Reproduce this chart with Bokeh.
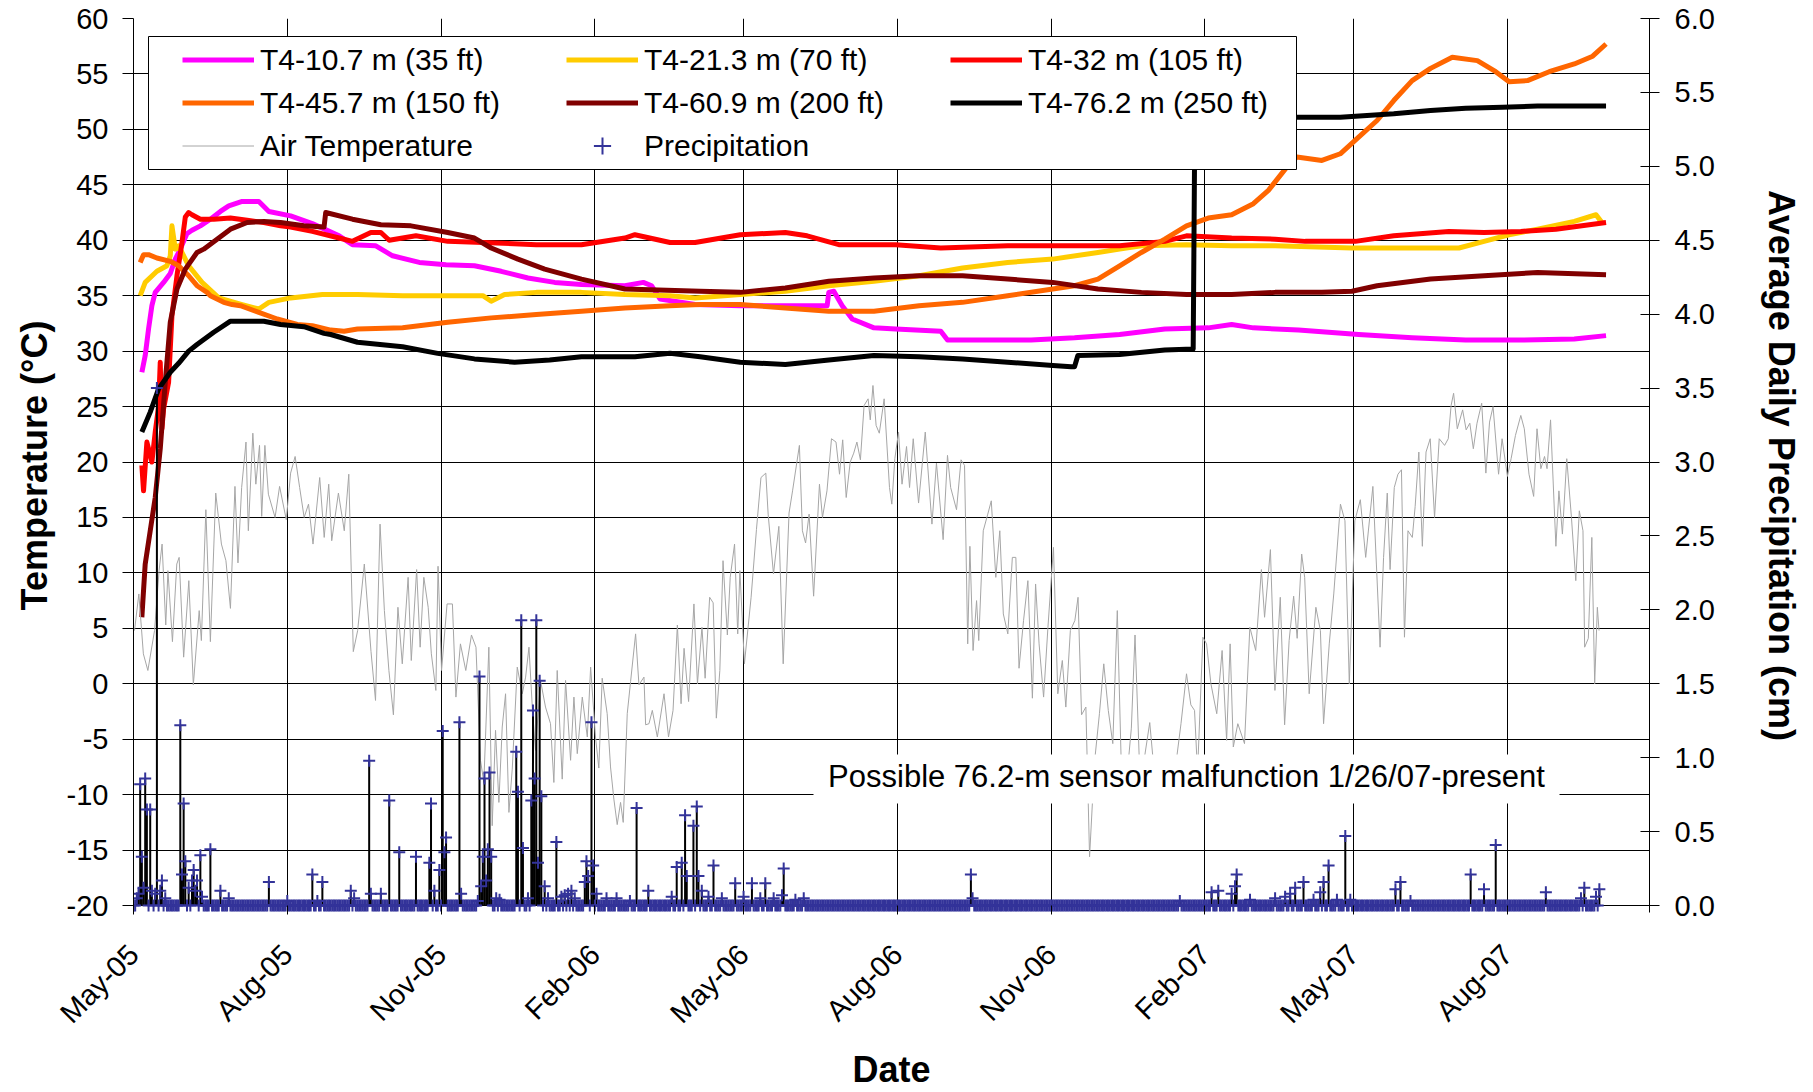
import math
import numpy as np
import pandas as pd
from bokeh.plotting import figure
from bokeh.models import (Range1d, LinearAxis, FixedTicker, DatetimeTickFormatter,
                          NumeralTickFormatter, Legend, LegendItem, Label, BoxAnnotation)
from bokeh.embed import file_html
from bokeh.resources import INLINE

FONT = "Liberation Sans"
START = pd.Timestamp("2005-05-01")
AXIS_END = pd.Timestamp("2007-10-25")

# ---------------- tick labels ----------------
tick_dates = ["2005-05-01", "2005-08-01", "2005-11-01", "2006-02-01", "2006-05-01",
              "2006-08-01", "2006-11-01", "2007-02-01", "2007-05-01", "2007-08-01"]
tick_label_format = "%b-%y"   # May-05, Aug-05, ... Aug-07
temp_ticks = [-20, -15, -10, -5, 0, 5, 10, 15, 20, 25, 30, 35, 40, 45, 50, 55, 60]
precip_ticks = [0.0, 0.5, 1.0, 1.5, 2.0, 2.5, 3.0, 3.5, 4.0, 4.5, 5.0, 5.5, 6.0]

# ---------------- data (days since 2005-05-01) ----------------
t107_days = [5, 7, 9, 11, 13, 18, 22, 25, 28, 32, 35, 40, 46, 52, 57, 65, 75, 81, 94, 107, 123, 131,
             145, 155, 171, 187, 204, 220, 236, 252, 268, 294, 305, 310, 315, 336, 363, 390, 415, 416,
             419, 424, 430, 443, 456, 483, 487, 510, 537, 563, 590, 617, 643, 657, 670, 697, 733, 765,
             797, 830, 862, 881]
t107_vals = [28.1, 29.6, 32.0, 34.1, 35.3, 36.2, 37.0, 38.3, 39.2, 40.6, 40.9, 41.3, 41.9, 42.6, 43.1,
             43.5, 43.5, 42.6, 42.2, 41.5, 40.4, 39.6, 39.5, 38.6, 38.0, 37.8, 37.7, 37.2, 36.6, 36.2,
             36.0, 35.9, 36.2, 35.9, 34.7, 34.2, 34.1, 34.1, 34.1, 35.3, 35.4, 34.1, 32.9, 32.1, 32.0,
             31.8, 31.0, 31.0, 31.0, 31.2, 31.5, 32.0, 32.1, 32.4, 32.1, 31.9, 31.5, 31.2, 31.0, 31.0,
             31.1, 31.4]

t213_days = [4, 7, 14, 20, 22, 23, 25, 27, 33, 41, 51, 65, 75, 81, 94, 113, 134, 161, 188, 209, 214,
             222, 241, 268, 294, 321, 336, 363, 390, 416, 443, 470, 496, 523, 550, 577, 590, 603, 630,
             657, 683, 729, 754, 793, 808, 823, 840, 862, 875, 879]
t213_vals = [35.0, 36.2, 37.2, 37.7, 38.6, 41.3, 39.2, 39.5, 37.7, 36.2, 34.8, 34.2, 33.8, 34.4, 34.8,
             35.1, 35.1, 35.0, 35.0, 35.0, 34.5, 35.1, 35.3, 35.3, 35.1, 35.0, 34.8, 35.1, 35.4, 35.9,
             36.3, 36.8, 37.5, 38.0, 38.3, 38.9, 39.2, 39.5, 39.6, 39.5, 39.5, 39.3, 39.3, 39.3, 39.9,
             40.5, 41.0, 41.7, 42.3, 41.5]

t32_days = [5, 6, 8, 9, 11, 13, 15, 16, 17, 18, 21, 23, 26, 29, 31, 33, 35, 40, 48, 58, 68, 78, 88, 94,
            107, 123, 131, 142, 148, 153, 169, 188, 209, 241, 268, 294, 300, 321, 336, 363, 390, 403,
            422, 456, 483, 523, 563, 590, 617, 630, 657, 683, 701, 731, 754, 787, 808, 830, 851, 881]
t32_vals = [19.7, 17.4, 21.8, 21.2, 20.0, 22.7, 25.0, 29.0, 23.0, 24.8, 27.2, 33.2, 36.8, 39.8, 42.1,
            42.5, 42.3, 41.9, 41.9, 42.0, 41.8, 41.6, 41.3, 41.2, 40.8, 40.2, 39.9, 40.7, 40.7, 40.0,
            40.4, 39.9, 39.8, 39.6, 39.6, 40.2, 40.5, 39.8, 39.8, 40.5, 40.7, 40.4, 39.6, 39.6, 39.3,
            39.5, 39.5, 39.5, 39.9, 40.4, 40.2, 40.1, 39.9, 39.9, 40.4, 40.8, 40.7, 40.8, 41.0, 41.6]

t457_days = [4, 6, 9, 14, 22, 27, 33, 38, 44, 46, 54, 59, 64, 75, 86, 98, 107, 118, 126, 134, 161, 188,
             214, 241, 268, 294, 321, 339, 363, 390, 416, 443, 470, 496, 523, 550, 563, 577, 590, 603,
             617, 630, 643, 657, 670, 679, 690, 696, 711, 722, 733, 744, 754, 765, 776, 789, 804, 815,
             823, 834, 847, 862, 873, 881]
t457_vals = [38.0, 38.7, 38.7, 38.4, 38.1, 37.7, 36.8, 35.9, 35.3, 35.0, 34.4, 34.2, 34.1, 33.5, 32.9,
             32.4, 32.3, 31.9, 31.8, 32.0, 32.1, 32.6, 33.0, 33.3, 33.6, 33.9, 34.1, 34.2, 34.2, 33.9,
             33.6, 33.6, 34.1, 34.4, 35.0, 35.6, 35.9, 36.5, 37.7, 38.9, 40.1, 41.3, 42.0, 42.3, 43.3,
             44.5, 46.6, 47.5, 47.2, 47.8, 49.3, 50.8, 52.6, 54.4, 55.5, 56.5, 56.2, 55.2, 54.3, 54.4,
             55.2, 55.9, 56.6, 57.7]

t609_days = [5, 7, 10, 13, 16, 19, 22, 26, 31, 38, 42, 50, 58, 68, 78, 88, 102, 114, 115, 131, 148, 166,
             188, 204, 214, 230, 246, 268, 294, 339, 363, 390, 416, 443, 470, 496, 523, 550, 577, 603,
             630, 657, 683, 711, 729, 744, 776, 808, 840, 881]
t609_vals = [6.0, 10.8, 13.8, 16.8, 21.2, 27.2, 32.6, 35.6, 37.4, 38.9, 39.2, 40.1, 41.0, 41.6, 41.7,
             41.6, 41.3, 41.2, 42.5, 41.9, 41.4, 41.3, 40.7, 40.2, 39.3, 38.3, 37.4, 36.5, 35.6, 35.4,
             35.3, 35.7, 36.3, 36.6, 36.8, 36.8, 36.5, 36.2, 35.6, 35.3, 35.1, 35.1, 35.3, 35.3, 35.4,
             35.9, 36.5, 36.8, 37.1, 36.9]

t762_days = [5, 10, 15, 22, 27, 33, 38, 48, 58, 68, 78, 88, 102, 114, 118, 134, 161, 182, 204, 228, 249,
             268, 300, 321, 339, 363, 390, 416, 443, 470, 496, 523, 550, 561, 563, 565, 590, 617, 634,
             635, 657, 696, 722, 754, 776, 797, 819, 840, 881]
t762_vals = [22.7, 24.5, 26.6, 28.1, 28.9, 30.0, 30.6, 31.7, 32.7, 32.7, 32.7, 32.4, 32.2, 31.6, 31.5,
             30.8, 30.4, 29.8, 29.3, 29.0, 29.2, 29.5, 29.5, 29.8, 29.5, 29.0, 28.8, 29.2, 29.6, 29.5,
             29.3, 29.0, 28.7, 28.6, 28.6, 29.6, 29.7, 30.1, 30.2, 51.3, 51.1, 51.1, 51.1, 51.4, 51.7,
             51.9, 52.0, 52.1, 52.1]

air_days = [0.6, 3.2, 5.9, 8.6, 12.6, 15.3, 17.1, 19.3, 20.6, 23.3, 25.9, 27.3, 30.0, 33.1, 35.8, 39.3,
            40.6, 43.3, 46.0, 49.2, 52.6, 55.3, 58.0, 60.7, 62.5, 64.7, 67.3, 68.7, 71.4, 73.2, 75.4,
            76.7, 78.6, 80.7, 84.7, 87.4, 91.4, 94.0, 96.7, 99.4, 102.1, 104.7, 107.4, 111.4, 114.1,
            116.8, 118.6, 122.6, 126.1, 128.8, 131.5, 134.1, 138.1, 142.1, 144.8, 147.5, 150.1, 152.8,
            155.5, 158.2, 160.8, 164.3, 166.2, 169.4, 171.5, 173.7, 176.3, 178.2, 180.9, 182.2, 184.3,
            187.6, 190.8, 192.9, 195.6, 198.8, 202.2, 204.9, 207.6, 209.6, 212.6, 214.6, 216.6, 218.6,
            220.6, 222.6, 224.6, 226.6, 229.6, 232.6, 234.6, 236.6, 238.6, 240.5, 243.5, 246.5, 249.5,
            251.5, 253.5, 256.5, 258.5, 261.5, 263.5, 265.5, 268.5, 271.5, 273.5, 276.4, 278.4, 280.4,
            283.4, 285.4, 287.4, 289.4, 291.4, 293.0, 295.4, 297.4, 300.4, 302.4, 305.4, 306.4, 308.4,
            310.4, 313.4, 317.4, 320.1, 322.8, 325.4, 327.6, 329.4, 332.1, 335.3, 337.4, 340.1, 342.0,
            344.7, 346.8, 348.7, 350.8, 352.7, 355.3, 357.0, 359.6, 361.5, 362.8, 365.5, 369.5, 372.7,
            375.4, 378.3, 379.7, 382.9, 386.1, 388.7, 392.2, 394.3, 398.4, 400.2, 402.1, 404.2, 406.9,
            410.4, 412.2, 414.9, 417.6, 420.3, 422.4, 424.3, 426.4, 428.8, 430.9, 432.8, 434.9, 437.1,
            439.5, 440.8, 442.4, 444.3, 446.2, 449.1, 452.3, 453.7, 455.5, 457.7, 459.8, 462.5, 464.3,
            466.5, 469.7, 473.7, 477.7, 480.4, 484.4, 487.0, 488.9, 492.4, 495.1, 497.2, 499.1, 500.4,
            502.3, 504.4, 505.7, 508.4, 511.1, 513.2, 515.9, 518.3, 520.4, 523.1, 525.8, 527.9, 529.8,
            532.5, 535.1, 537.8, 539.7, 541.8, 544.5, 547.1, 550.4, 553.0, 555.7, 557.8, 560.5, 563.2,
            565.1, 567.2, 569.8, 572.0, 575.0, 577.9, 580.5, 583.2, 585.9, 588.6, 591.0, 594.0, 597.0,
            599.2, 602.0, 605.0, 608.0, 611.0, 614.0, 617.0, 620.0, 623.0, 626.7, 630.0, 632.6, 634.8,
            636.6, 639.8, 642.0, 644.6, 648.1, 651.3, 654.0, 656.1, 658.0, 660.7, 664.7, 667.9, 671.4,
            674.8, 676.7, 680.2, 682.9, 686.1, 688.7, 691.4, 694.1, 696.2, 698.9, 700.7, 703.4, 707.4,
            710.1, 712.0, 715.4, 718.1, 722.1, 724.8, 727.4, 730.7, 734.0, 737.2, 741.5, 743.6, 745.8,
            747.9, 750.1, 751.8, 754.3, 756.5, 758.6, 760.4, 762.5, 765.1, 766.8, 769.0, 771.1, 773.3,
            775.8, 778.4, 781.2, 784.4, 786.6, 788.3, 789.8, 792.0, 795.2, 797.3, 799.5, 801.6, 803.8,
            806.6, 809.1, 811.3, 813.4, 816.7, 818.8, 822.0, 824.2, 826.8, 830.0, 832.1, 834.9, 837.7,
            839.7, 842.0, 844.2, 845.7, 847.8, 851.0, 852.8, 854.9, 857.5, 860.3, 862.9, 865.0, 867.2,
            868.2, 870.4, 872.5, 874.2, 875.8, 876.8]
air_vals = [4.8, 8.1, 2.7, 1.2, 4.8, 10.2, 12.6, 5.3, 10.2, 3.8, 10.8, 11.4, 2.4, 9.3, -0.1, 6.6,
            3.9, 15.7, 3.8, 17.2, 12.6, 11.1, 6.8, 17.8, 10.9, 17.7, 21.8, 13.8, 22.6, 18.0, 21.5,
            15.1, 21.5, 17.1, 15.0, 17.8, 14.8, 19.0, 20.5, 17.7, 15.0, 16.2, 12.6, 18.6, 13.2,
            18.0, 12.9, 17.2, 13.8, 18.9, 2.9, 4.8, 10.8, 2.9, -1.5, 14.4, 6.6, 1.2,
            -2.8, 6.9, 1.8, 9.6, 2.1, 10.3, 3.3, 9.6, 6.9, 2.7, -0.6, 10.6, 1.2,
            7.2, 7.2, -1.2, 3.6, 1.2, 4.4, 3.3, -6.9, -8.9, 3.3, -12.8, -4.2, -10.7,
            -3.9, -0.9, -11.6, -7.7, 1.5, -0.9, 0.6, 3.3, -2.1, -6.0, 0.3, -2.1, -3.6,
            -8.9, 1.2, -8.6, 0.3, -6.9, -1.2, -6.3, -1.2, -4.8, 1.5, -4.8, -7.6, 0.5,
            -2.7, -7.5, -10.4, -12.7, -10.7, -12.5, -2.7, 0.2, 4.5, -0.1, 0.6, -3.7, -3.6,
            -2.4, -4.8, -0.9, -4.8, -2.4, 5.3, -1.8, 3.2, -1.6, 7.2, 0.0, 5.1, 0.5,
            7.8, 7.3, -3.1, 1.2, 11.1, 4.4, 9.6, 12.6, 4.5, 10.2, 1.8, 7.8, 13.9,
            18.6, 19.0, 15.3, 9.9, 14.2, 1.8, 15.4, 17.4, 21.5, 13.8, 12.7, 15.3, 7.9,
            18.0, 15.0, 17.4, 22.1, 21.8, 18.9, 22.0, 16.8, 20.0, 20.8, 21.8, 20.2, 25.1,
            25.7, 23.8, 26.9, 23.3, 22.6, 25.7, 17.7, 16.2, 20.3, 22.7, 18.0, 21.4, 17.7,
            22.1, 16.3, 22.7, 14.4, 19.9, 13.0, 20.6, 17.7, 15.7, 20.2, 19.7, 3.6, 12.4,
            3.0, 7.5, 3.9, 13.8, 15.3, 16.5, 9.6, 13.8, 6.3, 4.5, 11.4, 11.4, 1.4,
            5.7, 9.3, -1.3, 9.0, 3.6, -1.2, 5.1, 12.3, -0.9, 2.1, -2.1, 4.8, 5.7,
            7.8, -2.8, -2.1, -15.6, -7.0, -2.7, 1.8, -2.4, -5.4, 6.6, -7.5, -9.0, -4.0,
            4.4, -8.0, -6.5, -3.5, -8.5, -9.5, -7.0, -9.0, -8.0, -3.6, 0.9, -1.9, -2.4,
            -8.0, 4.2, 3.6, 0.0, -2.7, 3.0, -5.1, 3.6, -5.7, -3.6, -5.4, 5.1, 3.0,
            10.3, 6.0, 12.1, -0.6, 7.8, -3.7, 3.9, 7.9, 4.1, 11.7, 9.6, -0.9, 6.9,
            4.8, -3.6, 3.6, 8.1, 16.2, 14.7, 0.0, 14.7, 16.6, 11.4, 17.8, 10.8, 3.3,
            11.4, 17.2, 10.3, 17.7, 18.9, 19.3, 4.2, 13.8, 13.2, 16.0, 20.9, 12.4, 20.9,
            22.1, 15.0, 22.1, 21.5, 22.1, 25.1, 26.2, 23.0, 24.7, 22.9, 23.5, 21.2, 23.5,
            25.3, 19.0, 23.6, 25.0, 18.9, 22.1, 18.7, 20.3, 22.4, 24.2, 23.0, 18.9, 16.9,
            23.0, 19.4, 20.5, 19.4, 23.8, 12.4, 17.4, 13.5, 20.3, 15.0, 9.3, 15.6, 13.8,
            3.3, 4.1, 13.2, 0.0, 6.9, 4.8]

# precipitation: recorded every day from day 0 to day 877; days not listed had 0.0 cm
precip_first_day = 0
precip_last_day = 877
rain_days = [2, 3, 4, 5, 6, 7, 8, 10, 11, 13, 14, 16, 17, 19, 28, 29, 30, 31, 33, 35, 36, 37, 38, 40,
             41, 46, 52, 57, 81, 92, 107, 110, 113, 130, 132, 141, 142, 148, 153, 159, 169, 177, 178,
             180, 183, 185, 186, 187, 195, 196, 206, 207, 208, 209, 210, 211, 212, 213, 214, 217, 219,
             229, 230, 232, 233, 236, 238, 239, 240, 241, 242, 243, 244, 246, 248, 253, 256, 258, 260,
             262, 264, 270, 271, 272, 274, 275, 277, 283, 289, 297, 301, 308, 322, 325, 328, 330, 331,
             335, 337, 338, 340, 344, 347, 352, 360, 365, 370, 375, 378, 383, 388, 389, 396, 401, 501,
             502, 626, 645, 649, 657, 659, 660, 668, 683, 689, 692, 695, 700, 706, 710, 712, 715, 720,
             725, 728, 755, 758, 764, 800, 808, 815, 845, 866, 868, 875, 877]
rain_vals = [0.05, 0.08, 0.82, 0.33, 0.12, 0.86, 0.65, 0.65, 0.10, 0.08, 3.50, 0.10, 0.17, 0.05, 1.22,
             0.21, 0.69, 0.30, 0.12, 0.17, 0.24, 0.10, 0.17, 0.34, 0.06, 0.38, 0.10, 0.05, 0.16, 0.03,
             0.21, 0.03, 0.16, 0.10, 0.05, 0.98, 0.08, 0.08, 0.71, 0.36, 0.33, 0.29, 0.69, 0.10, 0.24,
             1.18, 0.36, 0.46, 1.24, 0.08, 0.03, 1.55, 0.13, 0.33, 0.86, 0.17, 0.38, 0.90, 0.33, 0.05,
             0.04, 1.04, 0.77, 1.93, 0.39, 0.05, 0.71, 1.32, 0.86, 1.93, 0.29, 1.52, 0.74, 0.13, 0.05,
             0.43, 0.06, 0.07, 0.08, 0.10, 0.05, 0.16, 0.30, 0.20, 1.24, 0.27, 0.08, 0.05, 0.05, 0.03,
             0.66, 0.10, 0.06, 0.26, 0.29, 0.61, 0.20, 0.54, 0.67, 0.20, 0.10, 0.06, 0.27, 0.05, 0.15,
             0.06, 0.15, 0.05, 0.15, 0.05, 0.07, 0.25, 0.04, 0.05, 0.21, 0.05, 0.03, 0.09, 0.10, 0.08,
             0.13, 0.21, 0.04, 0.05, 0.06, 0.08, 0.12, 0.16, 0.04, 0.09, 0.16, 0.27, 0.04, 0.47, 0.04,
             0.11, 0.16, 0.03, 0.21, 0.11, 0.41, 0.09, 0.05, 0.12, 0.06, 0.11]

note_text = "Possible 76.2-m sensor malfunction 1/26/07-present"


def to_dt(days):
    return START + pd.to_timedelta(np.asarray(days, dtype=float), unit="D")


# ---------------- layout constants ----------------
W, H = 1813, 1092
TOP, LEFT, RIGHT = 18, 133, 164
GRID_PX = 892        # pixels between the 60 and -20 gridlines
PAD_PX = 7           # frame extends a little below -20 so baseline markers are not clipped
BOTTOM = H - TOP - GRID_PX - PAD_PX
y_lo = -20 - PAD_PX * 80.0 / GRID_PX
p_lo = 0 - PAD_PX * 6.0 / GRID_PX

p = figure(width=W, height=H, x_axis_type="datetime",
           x_range=Range1d(START, AXIS_END), y_range=Range1d(y_lo, 60),
           output_backend="svg", toolbar_location=None,
           min_border_left=LEFT, min_border_right=RIGHT, min_border_top=TOP,
           min_border_bottom=BOTTOM)
p.outline_line_color = None
p.background_fill_color = "white"
p.extra_y_ranges = {"precip": Range1d(p_lo, 6)}

tick_ms = [pd.Timestamp(d).value / 1e6 for d in tick_dates]
p.xaxis.ticker = FixedTicker(ticks=tick_ms)
p.xgrid.ticker = FixedTicker(ticks=tick_ms)
p.yaxis.ticker = FixedTicker(ticks=temp_ticks)
p.ygrid.ticker = FixedTicker(ticks=temp_ticks)
for g in (p.xgrid, p.ygrid):
    g.grid_line_color = "black"
    g.grid_line_width = 1
    g.grid_line_alpha = 1.0
p.yaxis.formatter = NumeralTickFormatter(format="0")
f = tick_label_format
p.xaxis.formatter = DatetimeTickFormatter(
    milliseconds=f, seconds=f, minsec=f, minutes=f, hourmin=f, hours=f,
    days=f, months=f, years=f)

# bottom axis: the -20 gridline acts as the axis line; ticks run from it outward
xa = p.xaxis[0]
xa.axis_label = "Date"
xa.major_label_orientation = math.pi / 4
xa.axis_line_color = None
xa.major_tick_in = PAD_PX
xa.major_tick_out = 2
xa.major_label_standoff = 35
xa.axis_label_standoff = 5

ya = p.yaxis[0]
ya.axis_label = "Temperature (°C)"
ya.axis_line_color = "black"
ya.major_tick_in = 0
ya.major_tick_out = 11
ya.major_label_standoff = 14
ya.axis_label_standoff = 9

ra = LinearAxis(y_range_name="precip", ticker=FixedTicker(ticks=precip_ticks),
                formatter=NumeralTickFormatter(format="0.0"),
                axis_label="Average Daily Precipitation (cm)")
ra.axis_line_color = "black"
ra.major_tick_in = 9
ra.major_tick_out = 10
ra.major_label_standoff = 15
ra.axis_label_standoff = 43
p.add_layout(ra, "right")

for ax in (xa, ya, ra):
    ax.minor_tick_line_color = None
    ax.major_tick_line_color = "black"
    ax.major_label_text_font = FONT
    ax.major_label_text_font_size = "29px"
    ax.major_label_text_color = "black"
    ax.axis_label_text_font = FONT
    ax.axis_label_text_font_size = "36px"
    ax.axis_label_text_font_style = "bold"
    ax.axis_label_text_color = "black"

# ---------------- series ----------------
series = [
    ("T4-10.7 m (35 ft)", t107_days, t107_vals, "#FF00FF"),
    ("T4-21.3 m (70 ft)", t213_days, t213_vals, "#FFCC00"),
    ("T4-32 m (105 ft)", t32_days, t32_vals, "#FF0000"),
    ("T4-45.7 m (150 ft)", t457_days, t457_vals, "#FF6600"),
    ("T4-60.9 m (200 ft)", t609_days, t609_vals, "#800000"),
    ("T4-76.2 m (250 ft)", t762_days, t762_vals, "#000000"),
]
items = []
for label, d, v, c in series:
    r = p.line(to_dt(d), v, line_color=c, line_width=5, line_join="round")
    items.append(LegendItem(label=label, renderers=[r]))

r_air = p.line(to_dt(air_days), air_vals, line_color="#A6A6A6", line_width=1)
items.append(LegendItem(label="Air Temperature", renderers=[r_air]))

all_days = np.arange(precip_first_day, precip_last_day + 1)
precip = np.zeros(len(all_days))
for d, v in zip(rain_days, rain_vals):
    precip[d - precip_first_day] = v
wet = precip > 0
p.segment(x0=to_dt(all_days[wet]), y0=0, x1=to_dt(all_days[wet]), y1=precip[wet],
          line_color="black", line_width=2, y_range_name="precip")
r_pr = p.scatter(to_dt(all_days), precip, marker="cross", size=12, line_color="#333399",
                 line_width=2, y_range_name="precip")
items.append(LegendItem(label="Precipitation", renderers=[r_pr]))

# ---------------- legend (positions in px from the frame's bottom-left) ----------------
legend_box = BoxAnnotation(left=15, right=1163, top=876, bottom=743,
                           left_units="screen", right_units="screen",
                           top_units="screen", bottom_units="screen",
                           fill_color="white", fill_alpha=1.0,
                           line_color="black", line_width=1, line_alpha=1.0)
p.add_layout(legend_box)

legend = Legend(items=items, orientation="horizontal", ncols=3, location=(49, 745),
                padding=0, spacing=0, margin=0, glyph_width=72, glyph_height=43,
                label_height=43, label_width=306, label_standoff=6,
                label_text_font=FONT, label_text_font_size="30px", label_text_color="black",
                border_line_color=None, background_fill_alpha=0)
p.add_layout(legend)

# ---------------- note ----------------
note_box = BoxAnnotation(left=680, right=1426, top=158, bottom=109,
                         left_units="screen", right_units="screen",
                         top_units="screen", bottom_units="screen",
                         fill_color="white", fill_alpha=1.0, line_color=None)
p.add_layout(note_box)
p.add_layout(Label(x=1053, y=136, x_units="screen", y_units="screen", text=note_text,
                   text_align="center", text_baseline="middle", text_font=FONT,
                   text_font_size="31px", text_color="black"))

open("out.html", "w").write(file_html(p, INLINE))
